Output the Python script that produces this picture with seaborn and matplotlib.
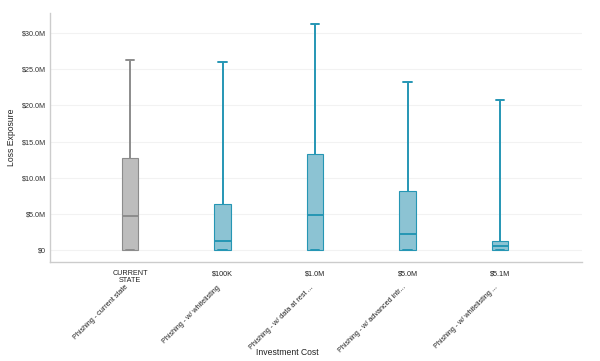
import numpy as np
import pandas as pd
import matplotlib
matplotlib.use("Agg")
import matplotlib.pyplot as plt
import seaborn as sns
from matplotlib.ticker import FuncFormatter

# ---- data (five-number summaries, in $M) ----
costs = ["CURRENT\nSTATE", "$100K", "$1.0M", "$5.0M", "$5.1M"]
names = ["Phishing - current state", "Phishing - w/ whitelisting",
         "Phishing - w/ data at rest ...", "Phishing - w/ advanced intr...",
         "Phishing - w/ whitelisting ..."]
mins    = [0.0, 0.0, 0.0, 0.0, 0.0]
q1s     = [0.05, 0.05, 0.05, 0.05, 0.05]
medians = [4.75, 1.2, 4.9, 2.2, 0.55]
q3s     = [12.8, 6.3, 13.3, 8.15, 1.2]
maxs    = [26.3, 26.0, 31.3, 23.2, 20.7]
groups  = ["current", "invest", "invest", "invest", "invest"]

rows = []
for c, g, a, b, m, d, e in zip(costs, groups, mins, q1s, medians, q3s, maxs):
    for v in (a, b, m, d, e):
        rows.append({"cost": c, "group": g, "value": v})
df = pd.DataFrame(rows)

sns.set_theme(style="white")
plt.rcParams["font.family"] = ["Liberation Sans", "DejaVu Sans"]

fig = plt.figure(figsize=(6.0, 3.61), dpi=100)
ax = fig.add_axes([50/600, 1 - 262/361, 532/600, 249/361])

styles = {
    "current": dict(fill="#bdbdbd", line="#8c8c8c"),
    "invest": dict(fill="#8cc3d3", line="#2596b4"),
}
for g, st in styles.items():
    sns.boxplot(data=df[df.group == g], x="cost", y="value", order=costs,
                color=st["fill"], saturation=1, width=0.175, whis=(0, 100),
                linecolor=st["line"], linewidth=1.4, ax=ax, showfliers=False,
                boxprops=dict(edgecolor=st["line"], linewidth=0.8))

ax.set_xlim(-0.865, 4.886)
ax.set_ylim(-1.66, 32.8)
ax.set_yticks([0, 5, 10, 15, 20, 25, 30])
ax.yaxis.set_major_formatter(FuncFormatter(lambda v, p: "$0" if v == 0 else f"${v:.1f}M"))
ax.grid(axis="y", color="#f2f2f2", linewidth=0.8)
ax.set_axisbelow(True)

for s in ["top", "right"]:
    ax.spines[s].set_visible(False)
for s in ["left", "bottom"]:
    ax.spines[s].set_color("#cccccc")
    ax.spines[s].set_linewidth(1.0)

ax.tick_params(axis="y", labelsize=5.2, colors="#333333", length=0, pad=3)
ax.tick_params(axis="x", labelsize=5.2, colors="#222222", length=0, pad=6)
for lab in ax.get_xticklabels():
    lab.set_linespacing(0.95)

for i, n in enumerate(names):
    ax.text(i - 0.06, -0.088, n, transform=ax.get_xaxis_transform(),
            rotation=45, ha="right", va="top", fontsize=5.2, color="#222222",
            rotation_mode="anchor")

ax.set_xlabel("Investment Cost", fontsize=6.2, color="#222222")
ax.xaxis.set_label_coords((287 - 50) / 532, -(348 - 262) / 249)
ax.set_ylabel("Loss Exposure", fontsize=6.2, color="#222222")
ax.yaxis.set_label_coords((16 - 50) / 532, (262 - 137) / 249)

fig.savefig("out.png", dpi=100, facecolor="white")
